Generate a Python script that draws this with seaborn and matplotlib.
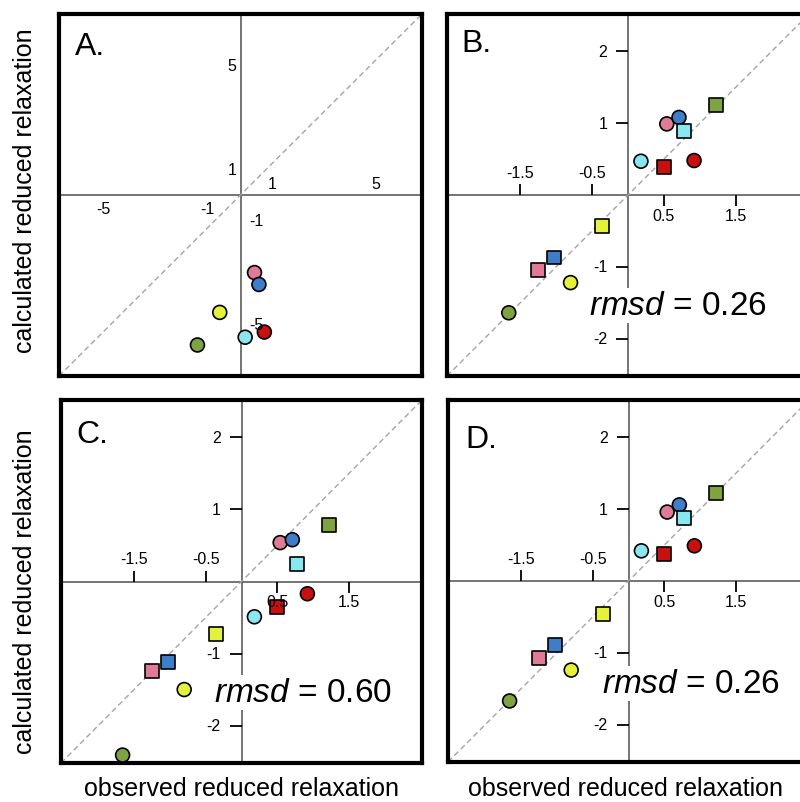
import pandas as pd
import matplotlib
matplotlib.use("Agg")
import matplotlib.pyplot as plt
import seaborn as sns
from matplotlib.markers import TICKUP, TICKDOWN, TICKLEFT

# Colour groups shared by all four panels
groups = ["green", "yellow", "pink", "blue", "cyan", "red"]
palette = {"green": "#7ea442", "yellow": "#e4f23a", "pink": "#df7b97",
           "blue": "#3f7dc8", "cyan": "#8ae6ef", "red": "#c81010"}

# Observed reduced relaxation (x)
obs_circle = [-1.66, -0.80, 0.54, 0.71, 0.18, 0.92]
obs_square = [1.22, -0.36, -1.25, -1.03, 0.78, 0.50]

# Calculated reduced relaxation (y), per panel
calc_A_circle = [-5.80, -4.54, -3.00, -3.46, -5.50, -5.30]
calc_B_circle = [-1.64, -1.22, 0.99, 1.08, 0.47, 0.48]
calc_B_square = [1.25, -0.43, -1.04, -0.87, 0.89, 0.39]
calc_C_circle = [-2.41, -1.50, 0.54, 0.58, -0.49, -0.17]
calc_C_square = [0.78, -0.73, -1.24, -1.12, 0.24, -0.35]
calc_D_circle = [-1.67, -1.24, 0.96, 1.06, 0.42, 0.49]
calc_D_square = [1.22, -0.46, -1.07, -0.89, 0.88, 0.38]

rmsd_values = {"B": "0.26", "C": "0.60", "D": "0.26"}

# tick values
a_ticks = [-5, -1, 1, 5]
zoom_xticks = [-1.5, -0.5, 0.5, 1.5]
zoom_yticks = [-2, -1, 1, 2]

sns.set_style("white")
plt.rcParams["font.family"] = ["Liberation Sans", "DejaVu Sans"]
plt.rcParams["text.color"] = "black"
plt.rcParams["mathtext.fontset"] = "custom"
plt.rcParams["mathtext.it"] = "Liberation Sans:italic"
plt.rcParams["mathtext.rm"] = "Liberation Sans"

fig = plt.figure(figsize=(8, 8.03), dpi=100)
W, H = 800, 803


def add_ax(left, top, right, bottom):
    return fig.add_axes([left / W, 1 - bottom / H, (right - left) / W, (bottom - top) / H])


axA = add_ax(59, 15, 422, 377)
axB = add_ax(447, 15, 809, 377)
axC = add_ax(61, 401, 422, 764)
axD = add_ax(448, 401, 809, 763)


def make_df(xc, yc, xs=None, ys=None):
    df = pd.DataFrame({"obs": xc, "calc": yc, "group": groups, "shape": "circle"})
    if xs is not None:
        sq = pd.DataFrame({"obs": xs, "calc": ys, "group": groups, "shape": "square"})
        df = pd.concat([df, sq], ignore_index=True)
    return df


def base(ax, lim, df):
    ax.axhline(0, color="#5c5c5c", lw=1.2, zorder=1)
    ax.axvline(0, color="#5c5c5c", lw=1.2, zorder=1)
    ax.axline((0, 0), slope=1, color="#a5a5a5", lw=1.0, ls=(0, (4, 2.5)), zorder=1)
    sns.scatterplot(data=df, x="obs", y="calc", hue="group", palette=palette,
                    style="shape", markers={"circle": "o", "square": "s"},
                    s=100, edgecolor="black", linewidth=1.2, legend=False,
                    zorder=3, ax=ax)
    ax.set_xlim(-lim, lim)
    ax.set_ylim(-lim, lim)
    ax.set_xticks([])
    ax.set_yticks([])
    ax.set_xlabel("")
    ax.set_ylabel("")
    for sp in ax.spines.values():
        sp.set_visible(True)
        sp.set_linewidth(3)
        sp.set_color("black")


def label(ax, text, x, y, dx, dy, ha, va):
    ax.annotate(text, (x, y), xytext=(dx, dy), textcoords="offset points",
                ha=ha, va=va, fontsize=11.5, color="black", zorder=4)


# Panel A: wide range, labels only
base(axA, 7, make_df(obs_circle, calc_A_circle))
for v in a_ticks:
    if v > 0:
        label(axA, f"{v:g}", v, 0, 1, 5, "left", "baseline")
        label(axA, f"{v:g}", 0, v, -3, 0, "right", "center")
    else:
        label(axA, f"{v:g}", v, 0, 0, -13, "right", "baseline")
        label(axA, f"{v:g}", 0, v, 6, 0, "left", "center")

# Panels B, C, D: zoomed range with tick marks
zoom_panels = [(axB, calc_B_circle, calc_B_square),
               (axC, calc_C_circle, calc_C_square),
               (axD, calc_D_circle, calc_D_square)]
for ax, yc, ys in zoom_panels:
    base(ax, 2.52, make_df(obs_circle, yc, obs_square, ys))
    neg = [v for v in zoom_xticks if v < 0]
    pos = [v for v in zoom_xticks if v > 0]
    ax.plot(neg, [0] * len(neg), ls="none", marker=TICKUP, ms=8, mew=1.3, color="black", zorder=2)
    ax.plot(pos, [0] * len(pos), ls="none", marker=TICKDOWN, ms=8, mew=1.3, color="black", zorder=2)
    ax.plot([0] * len(zoom_yticks), zoom_yticks, ls="none", marker=TICKLEFT, ms=9, mew=1.3,
            color="black", zorder=2)
    for v in neg:
        label(ax, f"{v:g}", v, 0, 0, 13, "center", "baseline")
    for v in pos:
        label(ax, f"{v:g}", v, 0, 0, -18, "center", "baseline")
    for v in zoom_yticks:
        label(ax, f"{v:g}", 0, v, -15, 0, "right", "center")

# panel letters
letter_pos = {"A.": (axA, 0.044, 0.953), "B.": (axB, 0.039, 0.962),
              "C.": (axC, 0.042, 0.948), "D.": (axD, 0.047, 0.934)}
for txt, (ax, x, y) in letter_pos.items():
    ax.text(x, y, txt, transform=ax.transAxes, fontsize=23, ha="left", va="top", zorder=5)

# rmsd annotations
rmsd_pos = {"B": (axB, 0.392, 0.171), "C": (axC, 0.424, 0.171), "D": (axD, 0.427, 0.193)}
for key, (ax, x, y) in rmsd_pos.items():
    ax.text(x, y, r"$\mathit{rmsd}$ = " + rmsd_values[key], transform=ax.transAxes,
            fontsize=24, ha="left", va="baseline", zorder=5,
            bbox=dict(facecolor="white", edgecolor="none", pad=1.5))

# shared axis titles
for xc in (241, 626):
    fig.text(xc / W, 1.5 / H, "observed reduced relaxation", ha="center", va="bottom", fontsize=18)
for yc in (191, 592):
    fig.text(25 / W, 1 - yc / H, "calculated reduced relaxation", ha="center", va="center",
             rotation=90, fontsize=18)

fig.savefig("out.png", dpi=100)
